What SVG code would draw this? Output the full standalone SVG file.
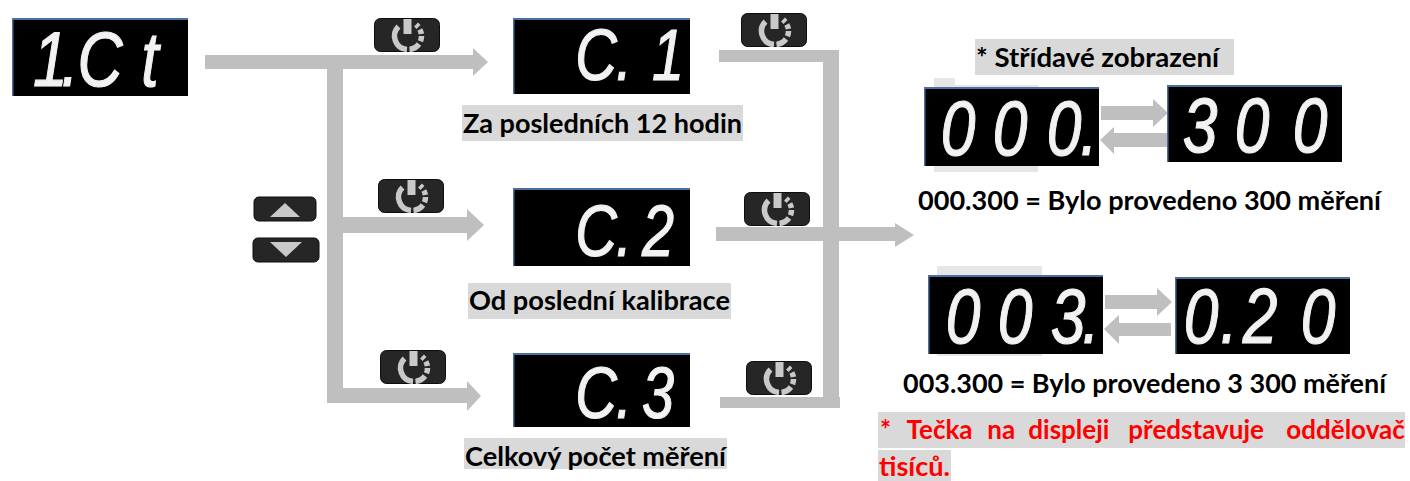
<svg xmlns="http://www.w3.org/2000/svg" xmlns:xlink="http://www.w3.org/1999/xlink" width="1410" height="481" viewBox="0 0 1410 481">
<style>
.scr{fill:#000}
.edge{fill:#4a70a0}
.led{font-family:"Liberation Sans",Arial,sans-serif;font-style:italic;font-size:78px;fill:#f2f2f2;stroke:#f2f2f2;stroke-width:1.2;text-anchor:middle}
.ledS{font-size:72px}
.lbl{font-family:Lato,"Open Sans",sans-serif;font-weight:700;font-size:26px;fill:#000}
.red{fill:#ff0000}
.bg{fill:#d9d9d9}
.patch{fill:#e6e6e6}
.conn{fill:#bfbfbf}
.key{fill:#262626;stroke:#0d0d0d;stroke-width:1}
.glyph{fill:#c9c9c9}
.ring{fill:none;stroke:#c9c9c9;stroke-width:5.500}
</style>
<defs>
<symbol id="power" width="66" height="34" viewBox="0 0 66 34" overflow="visible">
<rect class="key" x="0.5" y="0.5" width="65" height="33" rx="6"/>
<path class="ring" d="M24.500 8.500A13.500 13.500 0 0 0 33 31.500"/>
<path class="ring" d="M35.500 31.400A13.500 13.500 0 0 0 45 26"/>
<path class="ring" d="M46.500 23.200A13.500 13.500 0 0 0 47.500 18"/>
<path class="ring" d="M47.400 16A13.500 13.500 0 0 0 45.800 11.500"/>
<path class="ring" d="M44.500 9L42 6.500"/>
<rect class="glyph" x="29.500" y="1" width="8" height="15"/>
</symbol>
</defs>

<g id="connectors">
<path class="conn" d="M205 55H473V48L488 62L473 76V69H343V217H467V209L484 225L467 241V233H343V388H467V381L481 396L467 411V403H327V69H205Z"/>
<path class="conn" d="M719 50H839V397H840V408H720V397H823V241H839V227H895V223L914 235L895 247V241H716V227H823V62H719Z"/>
<polygon class="conn" points="1101,106 1153,106 1153,99 1168,113 1153,127 1153,120 1101,120"/>
<polygon class="conn" points="1100,140 1114,127 1114,133 1167,133 1167,147 1114,147 1114,154"/>
<polygon class="conn" points="1105,295 1157,295 1157,288 1172,302 1157,316 1157,309 1105,309"/>
<polygon class="conn" points="1104,329 1119,315 1119,323 1171,323 1171,336 1119,336 1119,344"/>
</g>

<g id="node-1ct">
<rect class="scr" x="12" y="18" width="176" height="78"/>
<rect class="edge" x="12" y="18" width="176" height="2"/><rect class="edge" x="12" y="18" width="1.500" height="78"/>
<text class="led" transform="scale(.8 1)" x="63 87.500 125 187.500" y="86">1.Ct</text>
</g>

<g id="node-c1">
<rect class="scr" x="513" y="18" width="177" height="76"/>
<rect class="edge" x="513" y="18" width="177" height="2"/><rect class="edge" x="513" y="18" width="1.500" height="76"/>
<text class="led ledS" transform="scale(.8 1)" x="745 780 835" y="80">C.1</text>
<rect class="bg" x="462" y="105" width="281" height="36"/>
<text class="lbl" x="463" y="133" textLength="279" lengthAdjust="spacingAndGlyphs">Za posledních 12 hodin</text>
</g>

<g id="node-c2">
<rect class="scr" x="513" y="188" width="177" height="78"/>
<rect class="edge" x="513" y="188" width="177" height="2"/><rect class="edge" x="513" y="188" width="1.500" height="78"/>
<text class="led ledS" transform="scale(.8 1)" x="745 780 822.500" y="256">C.2</text>
<rect class="bg" x="468" y="283" width="263" height="36"/>
<text class="lbl" x="469" y="310" textLength="261" lengthAdjust="spacingAndGlyphs">Od poslední kalibrace</text>
</g>

<g id="node-c3">
<rect class="scr" x="513" y="353" width="177" height="74"/>
<rect class="edge" x="513" y="353" width="177" height="2"/><rect class="edge" x="513" y="353" width="1.500" height="74"/>
<text class="led ledS" transform="scale(.8 1)" x="745 780 822.500" y="418">C.3</text>
<rect class="bg" x="464" y="438" width="263" height="31"/>
<text class="lbl" x="465" y="466" textLength="261" lengthAdjust="spacingAndGlyphs">Celkový počet měření</text>
</g>

<g id="key-power-1"><use href="#power" x="374" y="18" width="66" height="34"/></g>
<g id="key-power-2"><use href="#power" x="378" y="179" width="66" height="34"/></g>
<g id="key-power-3"><use href="#power" x="380" y="350" width="66" height="34"/></g>
<g id="key-power-4"><use href="#power" x="741" y="13" width="66" height="34"/></g>
<g id="key-power-5"><use href="#power" x="744" y="192" width="66" height="34"/></g>
<g id="key-power-6"><use href="#power" x="746" y="361" width="66" height="34"/></g>

<g id="key-up">
<rect class="key" x="254" y="197" width="62" height="24" rx="5"/>
<polygon class="glyph" points="270,217 300,217 285,203"/>
</g>
<g id="key-down">
<rect class="key" x="253" y="238" width="66" height="24" rx="5"/>
<polygon class="glyph" points="270,242 302,242 286,257"/>
</g>

<g id="node-alternate-1">
<rect class="bg" x="975" y="39" width="259" height="36"/>
<text class="lbl" x="976" y="67" textLength="243" lengthAdjust="spacingAndGlyphs">* Střídavé zobrazení</text>
<rect class="patch" x="934" y="78" width="21" height="8"/>
<rect class="patch" x="934" y="85" width="104" height="5"/>
<rect class="patch" x="934" y="164" width="104" height="8"/>
<rect class="scr" x="924" y="87" width="175" height="79"/>
<rect class="edge" x="924" y="87" width="175" height="2"/><rect class="edge" x="924" y="87" width="1.500" height="79"/>
<rect class="scr" x="1167" y="85" width="175" height="77"/>
<rect class="edge" x="1167" y="85" width="175" height="2"/><rect class="edge" x="1167" y="85" width="1.500" height="77"/>
<text class="led" transform="scale(.8 1)" x="1197.500 1262.500 1330 1361.250" y="155">000.</text>
<text class="led" transform="scale(.8 1)" x="1500 1565 1637.500" y="152">300</text>
<text class="lbl" x="918" y="210" textLength="463" lengthAdjust="spacingAndGlyphs">000.300 = Bylo provedeno 300 měření</text>
</g>

<g id="node-alternate-2">
<rect class="patch" x="937" y="266" width="105" height="10"/>
<rect class="patch" x="937" y="353" width="105" height="3"/>
<rect class="scr" x="928" y="275" width="175" height="79"/>
<rect class="edge" x="928" y="275" width="175" height="2"/><rect class="edge" x="928" y="275" width="1.500" height="79"/>
<rect class="scr" x="1175" y="277" width="175" height="77"/>
<rect class="edge" x="1175" y="277" width="175" height="2"/><rect class="edge" x="1175" y="277" width="1.500" height="77"/>
<text class="led" transform="scale(.8 1)" x="1203.750 1268.750 1335 1363.750" y="343">003.</text>
<text class="led" transform="scale(.8 1)" x="1501.250 1536.250 1575 1647.500" y="343">0.20</text>
<text class="lbl" x="903" y="393" textLength="483" lengthAdjust="spacingAndGlyphs">003.300 = Bylo provedeno 3 300 měření</text>
</g>

<g id="note">
<rect class="bg" x="878" y="412" width="527" height="36"/>
<rect class="bg" x="878" y="450" width="73" height="31"/>
<text class="lbl red" y="439"><tspan x="880">*</tspan><tspan x="901"> Tečka</tspan><tspan x="981"> na</tspan><tspan x="1022"> displeji</tspan><tspan x="1122"> představuje</tspan><tspan x="1280"> oddělovač</tspan></text>
<text class="lbl red" x="879" y="476" textLength="71" lengthAdjust="spacingAndGlyphs">tisíců.</text>
</g>
</svg>
